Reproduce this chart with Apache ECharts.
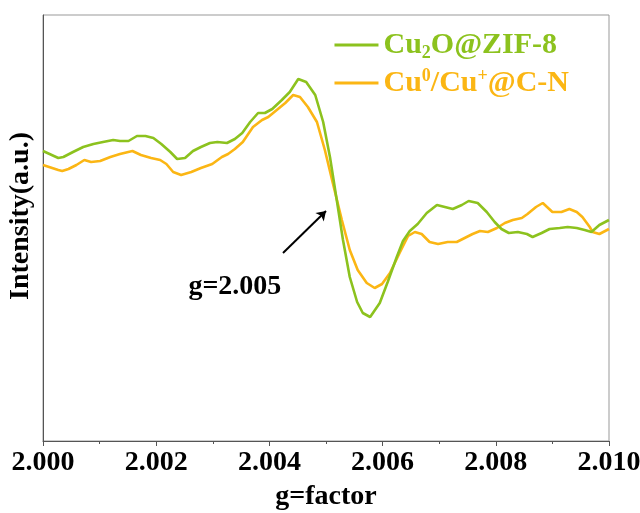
<!DOCTYPE html>
<html>
<head>
<meta charset="utf-8">
<script src="https://cdn.jsdelivr.net/npm/echarts@6/dist/echarts.min.js"></script>
<style>
  html, body { margin: 0; padding: 0; background: #fff; }
  #chart { width: 640px; height: 513px; }
</style>
</head>
<body>
<div id="chart"></div>
<script>
// g values (x) and intensity (a.u.)
const gZif = [2.00000, 2.00027, 2.00036, 2.00053, 2.00071, 2.00089, 2.00106, 2.00124, 2.00136, 2.00151,
  2.00166, 2.00181, 2.00195, 2.00209, 2.00225, 2.00237, 2.00251, 2.00265, 2.00279, 2.00295,
  2.00308, 2.00325, 2.00339, 2.00352, 2.00366, 2.00380, 2.00392, 2.00405, 2.00422, 2.00436,
  2.00451, 2.00465, 2.00481, 2.00495, 2.00507, 2.00519, 2.00530, 2.00542, 2.00555, 2.00565,
  2.00578, 2.00595, 2.00609, 2.00625, 2.00636, 2.00648, 2.00662, 2.00678, 2.00696, 2.00710,
  2.00724, 2.00740, 2.00752, 2.00768, 2.00784, 2.00798, 2.00810, 2.00823, 2.00839, 2.00855,
  2.00865, 2.00881, 2.00895, 2.00913, 2.00927, 2.00943, 2.00957, 2.00969, 2.00983, 2.01000];
const iZif = [290, 283, 284, 289, 294, 297, 299, 301, 300, 300,
  305, 305, 303, 297, 289, 282, 283, 290, 294, 298,
  299, 298, 302, 308, 319, 328, 328, 332, 341, 349,
  362, 359, 346, 319, 284, 241, 201, 164, 139, 128,
  124, 138, 159, 184, 200, 210, 217, 228, 236, 234,
  232, 236, 240, 238, 229, 219, 212, 208, 209, 207,
  204, 208, 212, 213, 214, 213, 211, 209, 216, 221];

const gCN = [2.00000, 2.00027, 2.00034, 2.00045, 2.00059, 2.00073, 2.00085, 2.00101, 2.00119, 2.00136,
  2.00158, 2.00173, 2.00191, 2.00207, 2.00218, 2.00230, 2.00244, 2.00262, 2.00279, 2.00299,
  2.00316, 2.00327, 2.00339, 2.00353, 2.00371, 2.00387, 2.00398, 2.00413, 2.00428, 2.00442,
  2.00454, 2.00468, 2.00484, 2.00498, 2.00512, 2.00528, 2.00542, 2.00556, 2.00572, 2.00586,
  2.00599, 2.00613, 2.00630, 2.00645, 2.00657, 2.00669, 2.00683, 2.00698, 2.00715, 2.00731,
  2.00745, 2.00759, 2.00772, 2.00786, 2.00802, 2.00816, 2.00830, 2.00846, 2.00856, 2.00871,
  2.00883, 2.00900, 2.00916, 2.00930, 2.00943, 2.00953, 2.00966, 2.00971, 2.00983, 2.01000];
const iCN = [276, 271, 270, 272, 276, 281, 279, 280, 284, 287,
  290, 286, 283, 281, 277, 269, 266, 269, 273, 277,
  284, 287, 292, 299, 314, 321, 324, 331, 338, 346,
  344, 334, 319, 291, 258, 221, 191, 171, 158, 153,
  157, 168, 188, 205, 209, 207, 199, 197, 199, 199,
  203, 207, 210, 209, 213, 218, 221, 223, 227, 234,
  238, 229, 229, 232, 229, 224, 214, 209, 207, 212];

const xTicks = ['2.000', '2.002', '2.004', '2.006', '2.008', '2.010'];
const arrowFrom = [2.00424, 188];
const arrowTo = [2.00500, 230];
const noteAt = [2.00339, 154];

const green = '#8cc21e';
const orange = '#fbb614';
const font = '"Liberation Serif", "Times New Roman", serif';

const zip = (xs, ys) => xs.map((x, i) => [x, ys[i]]);

const chart = echarts.init(document.getElementById('chart'));

chart.setOption({
  animation: false,
  textStyle: { fontFamily: font },
  grid: {
    left: 43, right: 31, top: 15, bottom: 72,
    outerBoundsMode: 'none',
    containLabel: false,
    show: true, borderColor: '#999', borderWidth: 1
  },
  legend: {
    right: 66, top: 25,
    orient: 'vertical',
    icon: 'rect',
    itemWidth: 44, itemHeight: 3, itemGap: 5,
    data: ['zif', 'cn'],
    formatter: name => name === 'zif'
      ? '{g|Cu}{gs|2}{g|O@ZIF-8}'
      : '{o|Cu}{os|0}{o|/Cu}{os|+}{o|@C-N}',
    textStyle: {
      rich: {
        g: { color: green, fontSize: 30, fontWeight: 'bold', fontFamily: font },
        gs: { color: green, fontSize: 18, fontWeight: 'bold', fontFamily: font, verticalAlign: 'bottom', padding: [16, 0, 0, 0] },
        o: { color: orange, fontSize: 30, fontWeight: 'bold', fontFamily: font },
        os: { color: orange, fontSize: 18, fontWeight: 'bold', fontFamily: font, verticalAlign: 'top', padding: [0, 0, 14, 0] }
      }
    }
  },
  xAxis: {
    type: 'value',
    min: 2.000, max: 2.010, interval: 0.002,
    name: 'g=factor',
    nameLocation: 'middle',
    nameGap: 42,
    nameTextStyle: { fontSize: 28, fontWeight: 'bold', color: '#000', fontFamily: font },
    axisLine: { lineStyle: { color: '#555', width: 1 } },
    axisTick: { show: true, length: 5, lineStyle: { color: '#555' } },
    minorTick: { show: true, splitNumber: 2, length: 3, lineStyle: { color: '#555' } },
    splitLine: { show: false },
    axisLabel: {
      fontSize: 28, fontWeight: 'bold', color: '#000', margin: 8,
      formatter: v => xTicks.find(t => Math.abs(+t - v) < 1e-6) || v.toFixed(3)
    }
  },
  yAxis: {
    type: 'value',
    min: 0, max: 426,
    name: 'Intensity(a.u.)',
    nameLocation: 'middle',
    nameGap: 8,
    nameTextStyle: { fontSize: 28, fontWeight: 'bold', color: '#000', fontFamily: font, padding: [0, 0, 0, 24] },
    axisLine: { show: true, lineStyle: { color: '#555', width: 1 } },
    axisTick: { show: false },
    axisLabel: { show: false },
    splitLine: { show: false }
  },
  series: [
    {
      name: 'zif', type: 'line', data: zip(gZif, iZif),
      symbol: 'none', lineStyle: { color: green, width: 2.6 }, itemStyle: { color: green },
      z: 3
    },
    {
      name: 'cn', type: 'line', data: zip(gCN, iCN),
      symbol: 'none', lineStyle: { color: orange, width: 2.6 }, itemStyle: { color: orange },
      z: 2,
      markLine: {
        silent: true,
        symbol: ['none', 'arrow'],
        symbolSize: 9,
        label: { show: false },
        lineStyle: { color: '#000', width: 2, type: 'solid' },
        data: [[{ coord: arrowFrom }, { coord: arrowTo }]]
      },
      markPoint: {
        silent: true,
        symbolSize: 0,
        label: {
          show: true, position: 'inside',
          formatter: 'g=2.005',
          fontSize: 28, fontWeight: 'bold', color: '#000', fontFamily: font
        },
        data: [{ coord: noteAt }]
      }
    }
  ]
});
</script>
</body>
</html>
